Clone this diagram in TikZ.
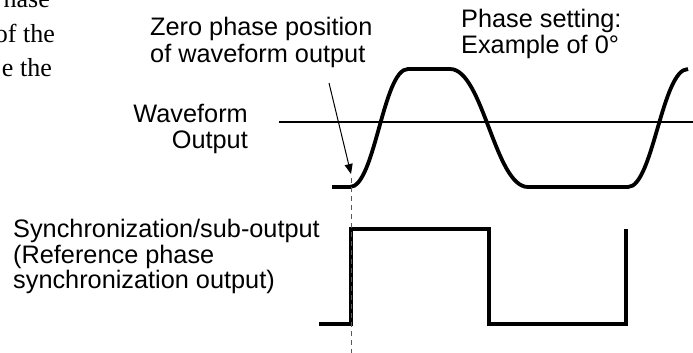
\documentclass[tikz,border=0pt]{standalone}
\usepackage{fontspec}
\setmainfont{Liberation Sans}
\newfontfamily\bodyserif{Liberation Serif}
\usepackage{xcolor}
\usepackage{tikz}
\usetikzlibrary{positioning, arrows.meta}

\begin{document}
\begin{tikzpicture}[x=1pt, y=-1pt,
          every node/.style={inner sep=0pt, font=\fontsize{25.3}{26}\selectfont},
          lbl/.style={anchor=base west},
          lblr/.style={anchor=base east},
          bodytxt/.style={anchor=base east, font=\bodyserif\fontsize{26}{35}\selectfont},
          wave/.style={line width=3.8pt},
          axis/.style={line width=1.3pt},
          marker/.style={draw=black!65, line width=1pt, dash pattern=on 5pt off 4pt}]
          \useasboundingbox (0,0) rectangle (693,353);
          \clip (0,0) rectangle (693,353);

          \node[bodytxt] (body1) at (50,8) {hase};
          \node[bodytxt] (body2) at (55,42.5) {of the};
          \node[bodytxt] (body3) at (52,77) {e the};

          \node[lbl] (zero1) at (150,36) {Zero phase position};
          \node[lbl] (zero2) at (150,62.5) {of waveform output};

          \node[lbl] (phase1) at (461,28) {Phase setting:};
          \node[lbl] (phase2) at (461,54) {Example of 0°};

          \node[lblr] (wave1) at (248,122) {Waveform};
          \node[lblr] (wave2) at (248,148) {Output};

          \node[lbl] (sync1) at (13,237) {Synchronization/sub-output};
          \node[lbl] (sync2) at (13,263) {(Reference phase};
          \node[lbl] (sync3) at (13,288.5) {synchronization output)};

          \coordinate (axisL) at (279,122);
          \coordinate (axisR) at (693,122);
          \coordinate (zeropt) at (351,174);
          \coordinate (arrowtail) at (329,83);
          \coordinate (markTop) at (351,178);
          \coordinate (markBot) at (351,353);

          \draw[axis] (axisL) -- (axisR);

          \draw[wave] (332,187) -- (350,187)
                .. controls (375,187) and (383,69) .. (408,69) -- (450,69)
                .. controls (483,69) and (495,187) .. (528,187) -- (628,187)
                .. controls (653,187) and (662,69) .. (688,69);

          \draw[wave] (319,324) -- (351,324) -- (351,229) -- (489,229)
                -- (489,324) -- (626,324) -- (626,229);

          \draw[marker] (markTop) -- (markBot);
          \draw[line width=1pt, -{Triangle[length=10pt, width=8pt]}] (arrowtail) -- (zeropt);
        \end{tikzpicture}
\end{document}
